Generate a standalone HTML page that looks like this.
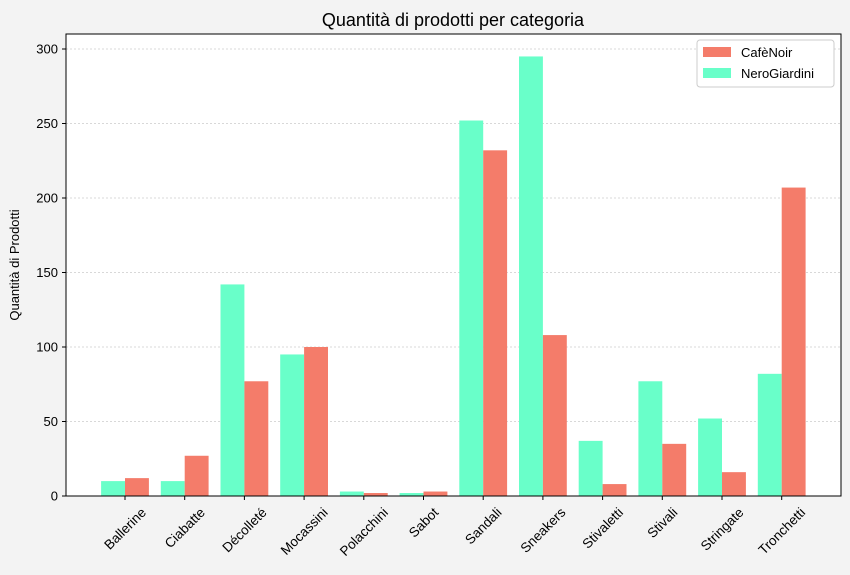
<!DOCTYPE html>
<html><head><meta charset="utf-8"><style>
body{margin:0;background:#f3f3f3;}
svg{display:block;font-family:"Liberation Sans","DejaVu Sans",sans-serif;}
</style></head><body>
<svg id="chart" width="850" height="575" xmlns="http://www.w3.org/2000/svg">
<rect x="0" y="0" width="850" height="575" fill="#f3f3f3"/>
<rect x="66" y="34" width="775" height="462" fill="#ffffff"/>
<g id="grid"></g><g id="bars"></g><g id="axes"></g>
<text x="453" y="26" font-size="18" text-anchor="middle" fill="#000">Quantità di prodotti per categoria</text>
<text transform="translate(19,265) rotate(-90)" font-size="13" text-anchor="middle" fill="#000">Quantità di Prodotti</text>
<rect x="66" y="34" width="775" height="462" fill="none" stroke="#000" stroke-width="1"/>
<g>
<rect x="697" y="40" width="137" height="47" rx="3" fill="#fff" stroke="#ccc"/>
<g><rect x="703" y="47" width="28" height="10" fill="#f47c6a"/><text x="741" y="57" font-size="13">CafèNoir</text></g>
<g><rect x="703" y="68" width="28" height="10" fill="#69ffc9"/><text x="741" y="78" font-size="13">NeroGiardini</text></g>
</g>
</svg>
<script>
const categories=["Ballerine","Ciabatte","Décolleté","Mocassini","Polacchini","Sabot","Sandali","Sneakers","Stivaletti","Stivali","Stringate","Tronchetti"];
const nero=[10,10,142,95,3,2,252,295,37,77,52,82];
const cafe=[12,27,77,100,2,3,232,108,8,35,16,207];
const yTicks=[0,50,100,150,200,250,300];
const NS="http://www.w3.org/2000/svg";
const x0=125,step=59.7,bw=23.9;
function xPos(i){return x0+i*step;}
function yPos(v){return 496-v*447/300;}
function mk(tag,attrs,parent){const e=document.createElementNS(NS,tag);for(const k in attrs)e.setAttribute(k,attrs[k]);parent.appendChild(e);return e;}
const grid=document.getElementById('grid'),bars=document.getElementById('bars'),axes=document.getElementById('axes');
yTicks.forEach(t=>{const y=yPos(t);
 if(t>0){const g=mk('line',{x1:66,x2:841,y1:y,y2:y,stroke:'#ccc','stroke-dasharray':'2,2','stroke-width':0.8},grid);
 
 }
 const tk=mk('line',{x1:62,x2:66,y1:y,y2:y,stroke:'#000'},axes);
 
 
 const tx=mk('text',{x:58,y:y+4.5,'font-size':13,'text-anchor':'end'},axes);tx.textContent=t;
 
 
});
categories.forEach((c,i)=>{const cx=xPos(i);
 const b1=mk('rect',{x:cx-bw,y:yPos(nero[i]),width:bw,height:496-yPos(nero[i]),fill:'#69ffc9'},bars);
 
 
 const b2=mk('rect',{x:cx,y:yPos(cafe[i]),width:bw,height:496-yPos(cafe[i]),fill:'#f47c6a'},bars);
 
 
 const tk=mk('line',{x1:cx,x2:cx,y1:496,y2:500,stroke:'#000'},axes);
 
 
 const tx=mk('text',{'font-size':13.5,'text-anchor':'middle'},axes);tx.textContent=c;
 
 
 const w=tx.getComputedTextLength();
 const half=(w*0.7071+14*0.7071)/2;
 const cy=505+half;
 tx.setAttribute('transform',`translate(${cx},${cy}) rotate(-45) translate(0,4.7)`);
});
</script>
</body></html>
